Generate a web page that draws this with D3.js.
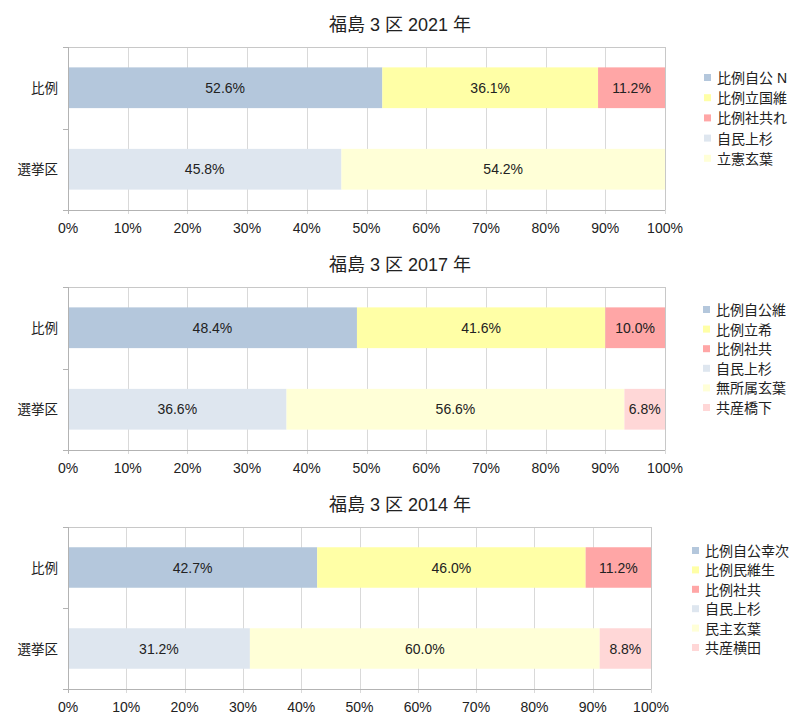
<!DOCTYPE html>
<html><head><meta charset="utf-8">
<script src="https://cdn.jsdelivr.net/npm/d3@7"></script>
<style>
body{margin:0;background:#fff;}
text{font-family:"Liberation Sans","Noto Sans CJK JP",sans-serif;}
</style></head>
<body><svg id="c" width="800" height="719"></svg>
<script>
const categories = ["比例", "選挙区"];
const xTicks = [0,0.1,0.2,0.3,0.4,0.5,0.6,0.7,0.8,0.9,1];
const colors = ["#b4c7dc","#ffffa6","#ffa6a6","#dee6ef","#ffffd7","#ffd7d7"];

const titles = ["福島 3 区 2021 年","福島 3 区 2017 年","福島 3 区 2014 年"];
const series2021 = ["比例自公 N","比例立国維","比例社共れ","自民上杉","立憲玄葉"];
const values2021 = [[52.6,0],[36.1,0],[11.2,0],[0,45.8],[0,54.2]];
const series2017 = ["比例自公維","比例立希","比例社共","自民上杉","無所属玄葉","共産橋下"];
const values2017 = [[48.4,0],[41.6,0],[10.0,0],[0,36.6],[0,56.6],[0,6.8]];
const series2014 = ["比例自公幸次","比例民維生","比例社共","自民上杉","民主玄葉","共産横田"];
const values2014 = [[42.7,0],[46.0,0],[11.2,0],[0,31.2],[0,60.0],[0,8.8]];

const charts = [
  {title:titles[0], series:series2021, values:values2021, top:47, bottom:210, right:665, titleY:31, legendX:704, legendY:78, legendStep:20.2},
  {title:titles[1], series:series2017, values:values2017, top:287, bottom:450, right:665, titleY:271, legendX:703, legendY:310, legendStep:19.6},
  {title:titles[2], series:series2014, values:values2014, top:527, bottom:689, right:651, titleY:511, legendX:692, legendY:551, legendStep:19.4}
];

const svg = d3.select("#c");
const left = 68;
const px = v => Math.round(v) + 0.5;

charts.forEach(ch => {
  const g = svg.append("g");
  const x = d3.scaleLinear().domain([0,1]).range([left, ch.right]);
  const y = d3.scaleBand().domain(categories).range([ch.top, ch.bottom]).paddingInner(0.5).paddingOuter(0.25);
  g.append("text").attr("x", 400).attr("y", ch.titleY).attr("text-anchor","middle")
    .attr("font-size", 18).attr("fill","#222").text(ch.title);
  g.selectAll(".grid").data(xTicks).enter().append("line")
    .attr("x1", d=>px(x(d))).attr("x2", d=>px(x(d))).attr("y1", ch.top).attr("y2", ch.bottom+4)
    .attr("stroke","#d9d9d9").attr("stroke-width",1);
  g.append("line").attr("x1",left).attr("x2",ch.right).attr("y1",px(ch.top)).attr("y2",px(ch.top))
    .attr("stroke","#c8c8c8");
  g.append("line").attr("x1",px(ch.right)).attr("x2",px(ch.right)).attr("y1",ch.top).attr("y2",ch.bottom)
    .attr("stroke","#c8c8c8");
  const rows = categories.map((c,ci) => {
    const o = {cat:c};
    ch.series.forEach((s,si)=>{ o[s] = ch.values[si][ci]; });
    return o;
  });
  const stack = d3.stack().keys(ch.series).offset(d3.stackOffsetExpand);
  const layers = stack(rows);
  layers.forEach((layer, li) => {
    layer.forEach((d, di) => {
      const v = ch.values[li][di];
      if (!v) return;
      g.append("rect").attr("x", x(d[0])).attr("y", y(categories[di]))
        .attr("width", x(d[1]) - x(d[0])).attr("height", y.bandwidth())
        .attr("fill", colors[li]);
      g.append("text").attr("x", (x(d[0])+x(d[1]))/2).attr("y", y(categories[di]) + y.bandwidth()/2 + 5)
        .attr("text-anchor","middle").attr("font-size",14).attr("fill","#222")
        .text(v.toFixed(1) + "%");
    });
  });
  g.append("line").attr("x1",px(left)).attr("x2",px(left)).attr("y1",ch.top).attr("y2",ch.bottom+4)
    .attr("stroke","#b3b3b3");
  const bounds = [ch.top, (ch.top+ch.bottom)/2, ch.bottom];
  g.selectAll(".lt").data(bounds).enter().append("line")
    .attr("x1",left-5).attr("x2",left).attr("y1",d=>px(d)).attr("y2",d=>px(d))
    .attr("stroke","#b3b3b3");
  g.selectAll(".cl").data(categories).enter().append("text")
    .attr("x", left-10).attr("y", d=>y(d)+y.bandwidth()/2+5).attr("text-anchor","end")
    .attr("font-size",13.5).attr("fill","#222").text(d=>d);
  g.append("line").attr("x1",left-5).attr("x2",ch.right).attr("y1",px(ch.bottom)).attr("y2",px(ch.bottom))
    .attr("stroke","#b3b3b3");
  g.selectAll(".xt").data(xTicks).enter().append("text")
    .attr("x", d=>x(d)).attr("y", ch.bottom+23).attr("text-anchor","middle")
    .attr("font-size",14).attr("fill","#222").text(d=>Math.round(d*100)+"%");
  ch.series.forEach((s,si)=>{
    const ly = ch.legendY + si*ch.legendStep;
    g.append("rect").attr("x", ch.legendX).attr("y", ly-4).attr("width",7).attr("height",7).attr("fill",colors[si]);
    g.append("text").attr("x", ch.legendX+13).attr("y", ly+5).attr("font-size",14).attr("fill","#222").text(s);
  });
});
</script></body></html>
